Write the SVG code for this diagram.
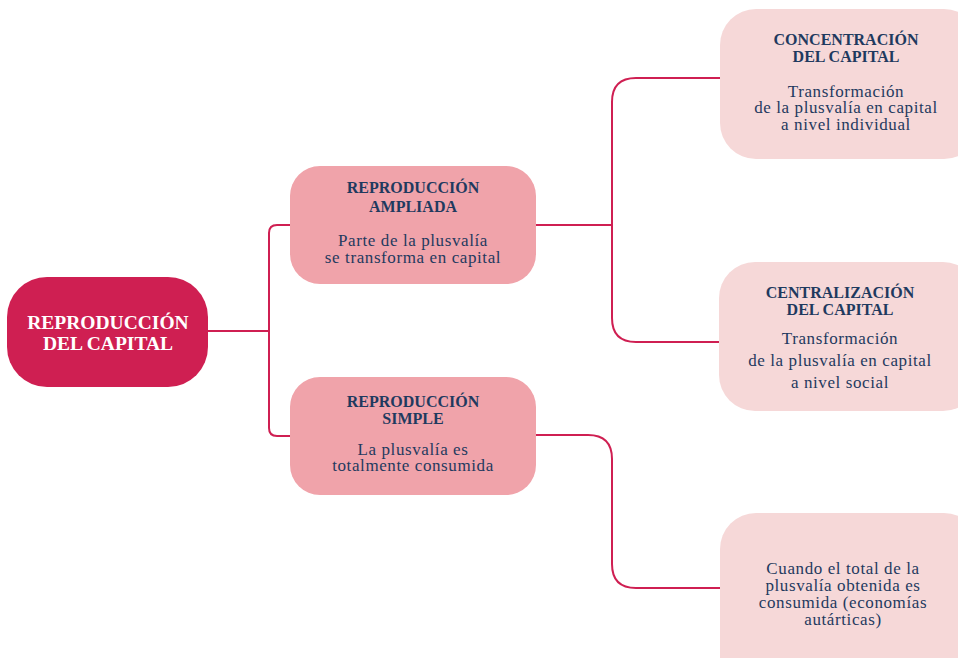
<svg xmlns="http://www.w3.org/2000/svg" width="958" height="658" viewBox="0 0 958 658">
<style>
.t{font-family:"Liberation Serif","DejaVu Serif",serif;text-anchor:middle;fill:#1f3a5f;}
.h{font-weight:bold;font-size:16px;}
.b{font-size:17px;letter-spacing:0.6px;}
.m{font-family:"Liberation Serif","DejaVu Serif",serif;text-anchor:middle;fill:#ffffff;font-weight:bold;font-size:19.5px;}
.c{fill:none;stroke:#cf1f52;stroke-width:2;}
</style>
<rect width="958" height="658" fill="#ffffff"/>
<g id="connectors">
<path class="c" d="M208,331 H269 M290,225 H277 Q269,225 269,233 V428 Q269,436 277,436 H290"/>
<path class="c" d="M536,225 H612 M720,78 H636 Q612,78 612,102 V318 Q612,342 636,342 H720"/>
<path class="c" d="M536,435 H588 Q612,435 612,459 V564 Q612,588 636,588 H720"/>
</g>
<g id="n-main">
<rect x="7" y="277" width="201" height="110" rx="40" fill="#cf1f52"/>
<text class="m" x="108" y="329">REPRODUCCIÓN</text>
<text class="m" x="108" y="350">DEL CAPITAL</text>
</g>
<g id="n-ampliada">
<rect x="290" y="166" width="246" height="118" rx="30" fill="#f0a3aa"/>
<text class="t h" x="413" y="193">REPRODUCCIÓN</text>
<text class="t h" x="413" y="212">AMPLIADA</text>
<text class="t b" x="413" y="246">Parte de la plusvalía</text>
<text class="t b" x="413" y="263">se transforma en capital</text>
</g>
<g id="n-simple">
<rect x="290" y="377" width="246" height="118" rx="30" fill="#f0a3aa"/>
<text class="t h" x="413" y="407">REPRODUCCIÓN</text>
<text class="t h" x="413" y="424">SIMPLE</text>
<text class="t b" x="413" y="455">La plusvalía es</text>
<text class="t b" x="413" y="471">totalmente consumida</text>
</g>
<g id="n-concentracion">
<rect x="720" y="9" width="260" height="150" rx="36" fill="#f6d8d8"/>
<text class="t h" x="846" y="45">CONCENTRACIÓN</text>
<text class="t h" x="846" y="62">DEL CAPITAL</text>
<text class="t b" x="846" y="97">Transformación</text>
<text class="t b" x="846" y="113">de la plusvalía en capital</text>
<text class="t b" x="846" y="130">a nivel individual</text>
</g>
<g id="n-centralizacion">
<rect x="719" y="262" width="260" height="149" rx="36" fill="#f6d8d8"/>
<text class="t h" x="840" y="298">CENTRALIZACIÓN</text>
<text class="t h" x="840" y="315">DEL CAPITAL</text>
<text class="t b" x="840" y="344">Transformación</text>
<text class="t b" x="840" y="366">de la plusvalía en capital</text>
<text class="t b" x="840" y="388">a nivel social</text>
</g>
<g id="n-autarquia">
<rect x="720" y="513" width="260" height="180" rx="36" fill="#f6d8d8"/>
<text class="t b" x="843" y="574">Cuando el total de la</text>
<text class="t b" x="843" y="591">plusvalía obtenida es</text>
<text class="t b" x="843" y="608">consumida (economías</text>
<text class="t b" x="843" y="625">autárticas)</text>
</g>
</svg>
